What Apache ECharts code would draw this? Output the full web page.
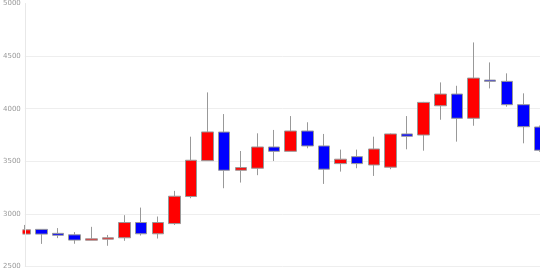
<!DOCTYPE html>
<html>
<head>
<meta charset="utf-8">
<script src="https://cdn.jsdelivr.net/npm/echarts@6/dist/echarts.min.js"></script>
<style>html,body{margin:0;padding:0;background:#fff;}#c{width:540px;height:270px;}</style>
</head>
<body>
<div id="c"></div>
<script>
const categories = ["1","2","3","4","5","6","7","8","9","10","11","12","13","14","15","16","17","18","19","20","21","22","23","24","25","26","27","28","29","30","31","32"];
const openValues  = [2808,2853,2815,2801,2750,2760,2773,2918,2811,2908,3165,3506,3778,3415,3434,3636,3595,3788,3646,3478,3544,3465,3444,3760,3750,4028,4139,3909,4272,4260,4038,3826];
const closeValues = [2849,2808,2797,2751,2763,2773,2918,2811,2918,3168,3510,3779,3415,3440,3636,3595,3788,3646,3425,3520,3478,3617,3760,3738,4060,4139,3909,4291,4260,4038,3829,3605];
const lowValues   = [2808,2715,2770,2716,2750,2697,2744,2794,2766,2895,3149,3506,3244,3298,3368,3503,3595,3624,3285,3402,3434,3361,3425,3614,3601,3895,3687,3838,4193,4019,3671,3590];
const highValues  = [2895,2855,2865,2827,2877,2800,2988,3060,2975,3219,3734,4155,3949,3598,3766,3798,3930,3871,3760,3611,3611,3734,3765,3930,4065,4250,4218,4630,4440,4336,4146,3840];
const yTicks = [2500,3000,3500,4000,4500,5000];

const data = categories.map((c,i)=>[openValues[i],closeValues[i],lowValues[i],highValues[i]]);
const yMin = yTicks[0], yMax = yTicks[yTicks.length-1];
const chart = echarts.init(document.getElementById('c'), null, {renderer:'canvas'});
chart.setOption({
  animation:false,
  grid:{left:23,right:0,top:3,bottom:3,containLabel:false},
  graphic:[{type:'rect',z:5,silent:true,shape:{x:0,y:0,width:22.5,height:270},style:{fill:'#fff'}}],
  xAxis:{type:'category',data:categories,boundaryGap:false,
    axisLine:{show:false},axisTick:{show:false},axisLabel:{show:false},splitLine:{show:false}},
  yAxis:[
    {type:'value',min:yMin,max:yMax,interval:500,
      axisLine:{show:false},axisTick:{show:false},axisLabel:{show:false},
      splitLine:{show:true,showMaxLine:false,lineStyle:{color:'#eeeeee'}}},
    {type:'value',position:'left',min:yMin,max:yMax,interval:500,z:10,
      axisLine:{show:true,onZero:false,lineStyle:{color:'#e8e8e8'}},axisTick:{show:false},
      axisLabel:{color:'#999',fontSize:7,margin:4,fontFamily:'DejaVu Sans',formatter:v=>String(v)},
      splitLine:{show:false}}
  ],
  series:[{type:'candlestick',yAxisIndex:0,data:data,barWidth:12,clip:true,
    itemStyle:{color:'#ff0000',color0:'#0000ff',borderColor:'#999',borderColor0:'#999',borderWidth:1}}]
});
</script>
</body>
</html>
